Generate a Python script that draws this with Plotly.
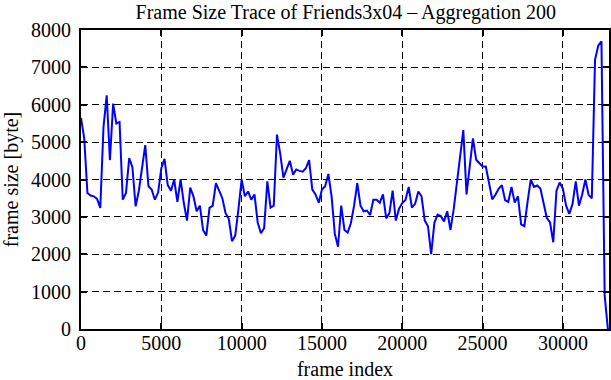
import plotly.graph_objects as go

# frame index (aggregation step 200)
frame_index = list(range(0, 32801, 200))

frame_size = [
    5650, 5100, 3640, 3570, 3550, 3480, 3240, 5400, 6250, 4520,
    6030, 5500, 5540, 3460, 3640, 4570, 4330, 3280, 3700, 4260,
    4920, 3820, 3730, 3460, 3650, 4300, 4550, 3850, 3700, 4000,
    3400, 4000, 3370, 2900, 3780, 3550, 3150, 3300, 2650, 2500,
    3240, 3300, 3900, 3700, 3500, 3100, 2950, 2350, 2500, 3200,
    4000, 3550, 3680, 3460, 3600, 2850, 2560, 2700, 3950, 3250,
    3300, 5200, 4700, 4050, 4300, 4500, 4130, 4270, 4230, 4210,
    4300, 4520, 3730, 3600, 3380, 3730, 3820, 4150, 3550, 2550,
    2200, 3300, 2650, 2580, 2830, 3300, 3900, 3300, 3150, 3170,
    3050, 3460, 3460, 3380, 3600, 2960, 3100, 3700, 2900, 3220,
    3370, 3450, 3800, 3250, 3350, 3680, 3550, 2900, 2750, 2000,
    2840, 3060, 3020, 2880, 3150, 2650, 3200, 3900, 4700, 5320,
    3600, 4300, 5100, 4530, 4450, 4350, 4350, 3870, 3470, 3590,
    3750, 3850, 3450, 3400, 3800, 3380, 3550, 2800, 2750, 3400,
    4000, 3800, 3840, 3760, 3400, 2970, 2850, 2320, 3700, 3920,
    3750, 3300, 3080, 3350, 3950, 3300, 3600, 4000, 3590, 3500,
    7200, 7580, 7700, 900, 0,
]

x_ticks = [0, 5000, 10000, 15000, 20000, 25000, 30000]
y_ticks = [0, 1000, 2000, 3000, 4000, 5000, 6000, 7000, 8000]

title_text = "Frame Size Trace of Friends3x04 \u2013 Aggregation 200"
x_title = "frame index"
y_title = "frame size [byte]"

FONT = "Liberation Serif, Times New Roman, serif"
FS = 20

fig = go.Figure()
fig.add_trace(go.Scatter(
    x=frame_index, y=frame_size, mode="lines",
    line=dict(color="#0000ff", width=2),
    showlegend=False, cliponaxis=True, hoverinfo="skip",
))

axis_common = dict(
    showline=True, linecolor="black", linewidth=2, mirror="allticks",
    ticks="inside", ticklen=6, tickwidth=1.5, tickcolor="black",
    showgrid=True, gridcolor="black", gridwidth=1, griddash="7px,4px",
    zeroline=False, automargin=False,
    tickfont=dict(family=FONT, size=FS, color="black"),
)

fig.update_xaxes(
    range=[0, 32870], tickvals=x_ticks, ticktext=[str(v) for v in x_ticks],
    title=dict(text=x_title, font=dict(family=FONT, size=FS, color="black")),
    ticklabelstandoff=-5,
    **axis_common,
)
fig.update_yaxes(
    range=[0, 8000], tickvals=y_ticks, ticktext=[str(v) for v in y_ticks],
    title=dict(text=y_title, font=dict(family=FONT, size=FS, color="black")),
    ticklabelstandoff=4,
    **axis_common,
)

fig.update_layout(
    width=611, height=380,
    margin=dict(l=81, r=2, t=30, b=51, autoexpand=False),
    paper_bgcolor="white", plot_bgcolor="white",
    title=dict(text=title_text, xref="container", x=0.566, xanchor="center",
               yref="container", y=0.969, yanchor="middle",
               font=dict(family=FONT, size=FS, color="black")),
    font=dict(family=FONT, color="black"),
)

fig.write_html(
    "out.html",
    config={"displayModeBar": False},
    post_script="document.body.style.margin='0';document.body.style.overflow='hidden';",
)
